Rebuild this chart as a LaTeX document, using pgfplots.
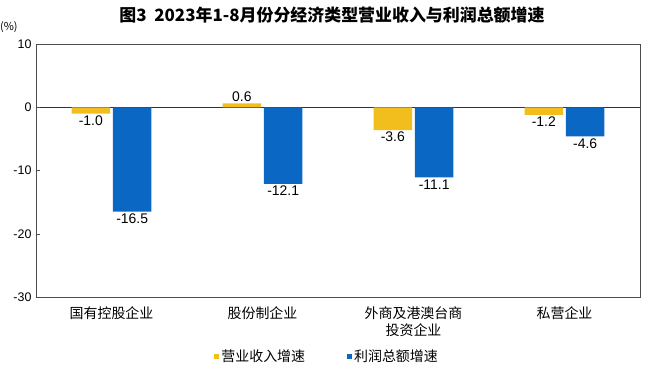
\documentclass[border=0pt]{standalone}
\usepackage{fontspec}
\usepackage{pgfplots}
\pgfplotsset{compat=1.18}
\setmainfont{Liberation Sans}
\newfontfamily\cjk{Noto Sans CJK SC}
\definecolor{cy}{RGB}{242,190,30}
\definecolor{cb}{RGB}{10,104,196}
\begin{document}
\begin{tikzpicture}
\useasboundingbox (-36bp,-74bp) rectangle (612bp,297bp);
\begin{axis}[
  at={(0,0)}, anchor=south west,
  scale only axis, width=604bp, height=253bp,
  xmin=-0.5, xmax=3.5, ymin=-30, ymax=10,
  ytick={-30,-20,-10,0,10},
  xtick={0,1,2,3},
  xticklabels={国有控股企业,股份制企业,{外商及港澳台商\\投资企业},私营企业},
  x tick label style={font=\cjk\fontsize{14}{17}\selectfont, align=center, text depth=0pt},
  xtick style={draw=none},
  xticklabel style={yshift=-2pt},
  y tick label style={font=\fontsize{12.5}{13}\selectfont, xshift=-1pt},
  /pgf/number format/assume math mode=true,
  ytick align=inside, ytick pos=left,
  major tick length=4bp,
  axis line style={draw=black!70, line width=0.8pt},
  tick style={draw=black!70},
  extra y ticks={0}, extra y tick labels={},
  extra y tick style={grid=major, major grid style={draw=black!80, line width=0.8pt}},
  ybar, bar width=0.255,
  nodes near coords,
  every node near coord/.append style={font=\fontsize{14}{15}\selectfont, inner sep=2pt, /pgf/number format/fixed, /pgf/number format/fixed zerofill, /pgf/number format/precision=1},
  legend style={at={(0.482,-0.235)}, anchor=center, draw=none, legend columns=2, font=\cjk\fontsize{14}{15}\selectfont, /tikz/every even column/.append style={column sep=40bp}},
  legend image code/.code={\fill[#1] (0bp,-2.5bp) rectangle (5bp,2.5bp);},
  clip=false,
]
\addplot[draw=none, fill=cy, bar shift=-0.137] coordinates {(0,-1.0) (1,0.6) (2,-3.6) (3,-1.2)};
\addplot[draw=none, fill=cb, bar shift=0.137] coordinates {(0,-16.5) (1,-12.1) (2,-11.1) (3,-4.6)};
\legend{营业收入增速,利润总额增速}
\node[font=\cjk\fontsize{11}{12}\selectfont] at (rel axis cs:-0.045,1.065) {(\%)};
\node[font=\cjk\bfseries\fontsize{17}{19}\selectfont] at (rel axis cs:0.49,1.115) {图3\ \ 2023年1-8月份分经济类型营业收入与利润总额增速};
\end{axis}
\end{tikzpicture}
\end{document}
